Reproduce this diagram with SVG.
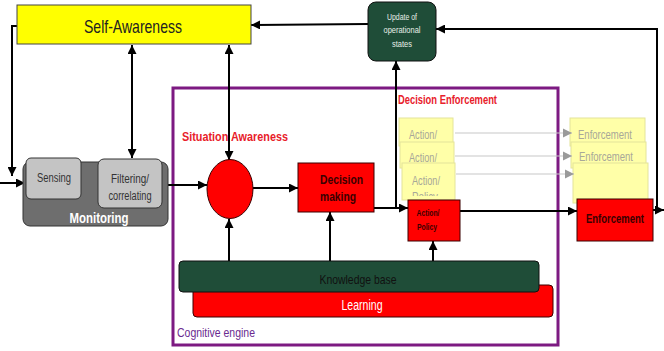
<svg xmlns="http://www.w3.org/2000/svg" width="664" height="351" viewBox="0 0 664 351">
<style>
text{font-family:"Liberation Sans",Arial,sans-serif;}
.ln{stroke:#000;stroke-width:2;fill:none;}
.gl{stroke:#c8c8c8;stroke-width:1.2;fill:none;}
.red{fill:#ff0000;stroke:#3a0000;stroke-width:1;}
.fade{fill:#ffffa8;stroke:#e4e49a;stroke-width:1;}
.ft{fill:#a8a898;font-size:13px;}
.gray{fill:#c4c4c4;stroke:#333;stroke-width:1;}
</style>
<defs>
<marker id="ah" viewBox="0 0 10 10" refX="10" refY="5" markerWidth="9" markerHeight="9" markerUnits="userSpaceOnUse" orient="auto-start-reverse"><path d="M0,0 L10,5 L0,10 z" fill="#000"/></marker>
<marker id="gh" viewBox="0 0 10 10" refX="10" refY="5" markerWidth="9" markerHeight="11" markerUnits="userSpaceOnUse" orient="auto"><path d="M0,0 L10,5 L0,10 z" fill="#9a9a9a"/></marker>
<clipPath id="cp3"><rect x="400" y="160" width="60" height="36"/></clipPath>
</defs>
<rect width="664" height="351" fill="#fff"/>

<g id="cognitive-engine">
<rect x="173" y="88" width="385" height="257" fill="none" stroke="#7d1a82" stroke-width="3"/>
<text x="177" y="337" font-size="13" fill="#6a2a90" textLength="78" lengthAdjust="spacingAndGlyphs">Cognitive engine</text>
<text x="182" y="141" font-size="13" font-weight="bold" fill="#e8202a" textLength="106" lengthAdjust="spacingAndGlyphs">Situation  Awareness</text>
<text x="398" y="104" font-size="13" font-weight="bold" fill="#e8202a" textLength="99" lengthAdjust="spacingAndGlyphs">Decision Enforcement</text>
</g>

<g id="action-stack">
<rect class="fade" x="399" y="118" width="54" height="28"/>
<text class="ft" x="409" y="139" textLength="28" lengthAdjust="spacingAndGlyphs">Action/</text>
<rect class="fade" x="400" y="142" width="54" height="26"/>
<text class="ft" x="409" y="162" textLength="28" lengthAdjust="spacingAndGlyphs">Action/</text>
<rect class="fade" x="402" y="163" width="53" height="37"/>
<g clip-path="url(#cp3)">
<text class="ft" x="412" y="185" textLength="28" lengthAdjust="spacingAndGlyphs">Action/</text>
<text class="ft" x="412" y="201" textLength="26" lengthAdjust="spacingAndGlyphs">Policy</text>
</g>
</g>

<g id="enforcement-stack">
<rect class="fade" x="570" y="118" width="75" height="28"/>
<text class="ft" x="578" y="139" textLength="54" lengthAdjust="spacingAndGlyphs">Enforcement</text>
<rect class="fade" x="571" y="142" width="75" height="26"/>
<text class="ft" x="579" y="161" textLength="54" lengthAdjust="spacingAndGlyphs">Enforcement</text>
<rect class="fade" x="573" y="163" width="75" height="40"/>
</g>

<g id="connectors">
<line class="gl" x1="455" y1="133" x2="572" y2="133" marker-end="url(#gh)"/>
<line class="gl" x1="455" y1="156" x2="572" y2="156" marker-end="url(#gh)"/>
<line class="gl" x1="456" y1="174" x2="574" y2="174" marker-end="url(#gh)"/>
<polyline class="ln" points="17,26 12,26 12,176" marker-end="url(#ah)"/>
<line class="ln" x1="0" y1="183" x2="25" y2="183" marker-end="url(#ah)"/>
<line class="ln" x1="81" y1="183" x2="97" y2="183" marker-end="url(#ah)"/>
<line class="ln" x1="132" y1="45" x2="132" y2="158" marker-start="url(#ah)" marker-end="url(#ah)"/>
<line class="ln" x1="229" y1="45" x2="229" y2="160" marker-start="url(#ah)" marker-end="url(#ah)"/>
<line class="ln" x1="162" y1="185" x2="207" y2="185" marker-end="url(#ah)"/>
<line class="ln" x1="253" y1="188" x2="298" y2="188" marker-end="url(#ah)"/>
<line class="ln" x1="374" y1="208" x2="408" y2="208" marker-end="url(#ah)"/>
<line class="ln" x1="396" y1="208" x2="396" y2="61" marker-end="url(#ah)"/>
<line class="ln" x1="368" y1="24" x2="251" y2="25" marker-end="url(#ah)"/>
<line class="ln" x1="460" y1="211" x2="577" y2="211" marker-end="url(#ah)"/>
<line class="ln" x1="653" y1="210" x2="664" y2="210" marker-end="url(#ah)"/>
<polyline class="ln" points="657,210 657,29 436,29" marker-end="url(#ah)"/>
<line class="ln" x1="229" y1="261" x2="229" y2="219" marker-end="url(#ah)"/>
<line class="ln" x1="330" y1="261" x2="330" y2="212" marker-end="url(#ah)"/>
<line class="ln" x1="433" y1="261" x2="433" y2="241" marker-end="url(#ah)"/>
</g>

<g id="self-awareness">
<rect x="17" y="5" width="234" height="39" fill="#ffff00" stroke="#444" stroke-width="1"/>
<text x="133" y="33" font-size="19" text-anchor="middle" fill="#222" textLength="98" lengthAdjust="spacingAndGlyphs">Self-Awareness</text>
</g>

<g id="update-states">
<rect x="368" y="2" width="68" height="59" rx="8" fill="#1f4d38" stroke="#111" stroke-width="1"/>
<text x="402" y="20" font-size="9" fill="#e8efe8" text-anchor="middle" textLength="30" lengthAdjust="spacingAndGlyphs">Update of</text>
<text x="402" y="33" font-size="9" fill="#e8efe8" text-anchor="middle" textLength="37" lengthAdjust="spacingAndGlyphs">operational</text>
<text x="402" y="47" font-size="9" fill="#e8efe8" text-anchor="middle" textLength="20" lengthAdjust="spacingAndGlyphs">states</text>
</g>

<g id="monitoring">
<rect x="23" y="162" width="145" height="64" rx="7" fill="#6e6e6e" stroke="#333" stroke-width="1"/>
<text x="99" y="223" font-size="15" font-weight="bold" fill="#fff" text-anchor="middle" textLength="59" lengthAdjust="spacingAndGlyphs">Monitoring</text>
</g>

<g id="sensing">
<rect class="gray" x="26" y="158" width="55" height="41" rx="5"/>
<text x="54" y="182" font-size="12" fill="#333" text-anchor="middle" textLength="34" lengthAdjust="spacingAndGlyphs">Sensing</text>
</g>

<g id="filtering">
<rect class="gray" x="98" y="159" width="64" height="49" rx="6"/>
<text x="130" y="183" font-size="12" fill="#333" text-anchor="middle" textLength="38" lengthAdjust="spacingAndGlyphs">Filtering/</text>
<text x="130" y="200" font-size="12" fill="#333" text-anchor="middle" textLength="43" lengthAdjust="spacingAndGlyphs">correlating</text>
</g>

<g id="situation-awareness">
<ellipse cx="230" cy="189" rx="23" ry="29.5" fill="#ff0000" stroke="#3a0000" stroke-width="1"/>
</g>

<g id="decision-making">
<rect class="red" x="298" y="163" width="76" height="49"/>
<text x="320" y="184" font-size="12" font-weight="bold" fill="#3a0000" textLength="43" lengthAdjust="spacingAndGlyphs">Decision</text>
<text x="320" y="201" font-size="12" font-weight="bold" fill="#3a0000" textLength="36" lengthAdjust="spacingAndGlyphs">making</text>
</g>

<g id="action-policy">
<rect class="red" x="408" y="200" width="52" height="41"/>
<text x="428" y="216" font-size="9" font-weight="bold" fill="#3a0000" text-anchor="middle" textLength="23" lengthAdjust="spacingAndGlyphs">Action/</text>
<text x="427" y="230" font-size="9" font-weight="bold" fill="#3a0000" text-anchor="middle" textLength="20" lengthAdjust="spacingAndGlyphs">Policy</text>
</g>

<g id="enforcement">
<rect class="red" x="577" y="199" width="76" height="42"/>
<text x="615" y="223" font-size="12" font-weight="bold" fill="#3a0000" text-anchor="middle" textLength="58" lengthAdjust="spacingAndGlyphs">Enforcement</text>
</g>

<g id="learning">
<rect x="193" y="285" width="360" height="32" rx="4" fill="#ff0000" stroke="#3a0000" stroke-width="1"/>
<text x="362" y="310" font-size="14" fill="#fff" text-anchor="middle" textLength="41" lengthAdjust="spacingAndGlyphs">Learning</text>
</g>

<g id="knowledge-base">
<rect x="179" y="261" width="360" height="31" rx="4" fill="#1f4d38" stroke="#111" stroke-width="1"/>
<text x="358" y="284" font-size="13" fill="#111" text-anchor="middle" textLength="77" lengthAdjust="spacingAndGlyphs">Knowledge base</text>
</g>
</svg>
